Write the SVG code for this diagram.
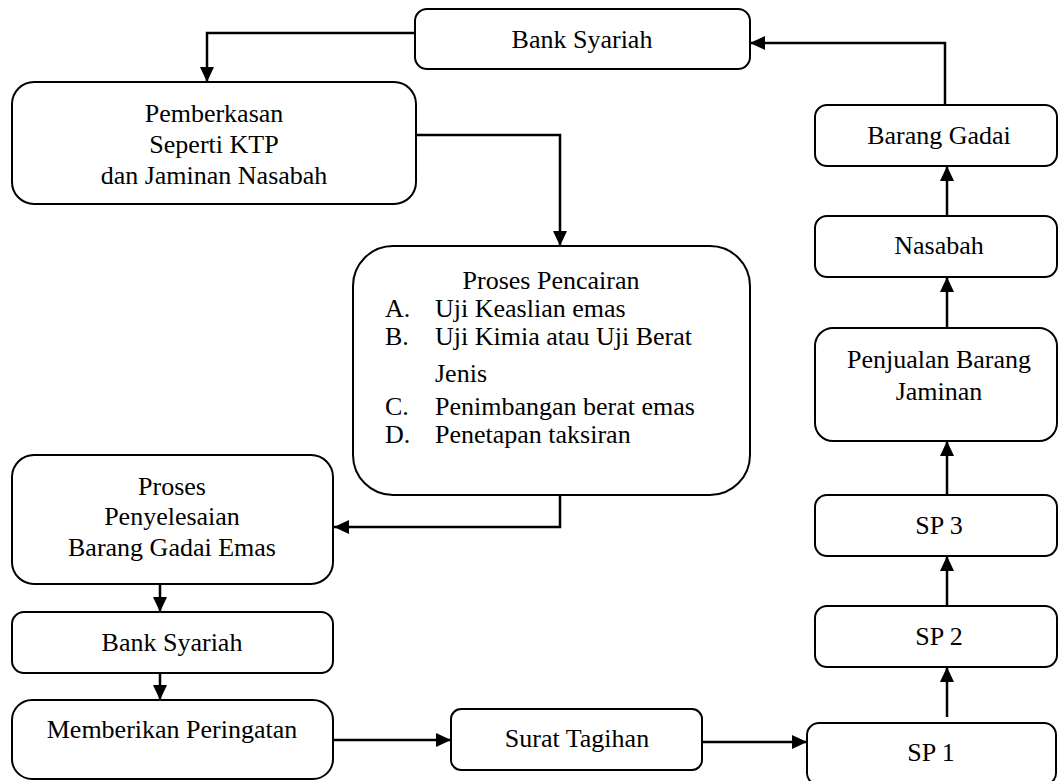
<svg xmlns="http://www.w3.org/2000/svg" width="1059" height="781" viewBox="0 0 1059 781">
<style>
.box{fill:#fff;stroke:#000;stroke-width:2}
.t{font-family:"Liberation Serif","Times New Roman",serif;font-size:26px;fill:#000}
.c{text-anchor:middle}
.ln{fill:none;stroke:#000;stroke-width:2.5;marker-end:url(#ah)}
</style>
<defs>
<marker id="ah" markerUnits="userSpaceOnUse" markerWidth="15" markerHeight="14" refX="15" refY="7" orient="auto">
<path d="M0,0 L15,7 L0,14 z" fill="#000"/>
</marker>
</defs>
<rect width="1059" height="781" fill="#fff"/>
<g id="connectors">
<path class="ln" d="M415,33 H207 V82"/>
<path class="ln" d="M416,135 H560 V246"/>
<path class="ln" d="M560,495 V527 H334"/>
<path class="ln" d="M160,584 V612"/>
<path class="ln" d="M160,673 V700"/>
<path class="ln" d="M333,740 H451"/>
<path class="ln" d="M702,742 H807"/>
<path class="ln" d="M947,717 V667"/>
<path class="ln" d="M947,606 V556"/>
<path class="ln" d="M947,495 V441"/>
<path class="ln" d="M947,328 V277"/>
<path class="ln" d="M947,216 V166"/>
<path class="ln" d="M945,105 V43 H750"/>
</g>
<g id="bank-syariah-top">
<rect class="box" x="415" y="9" width="335" height="60" rx="12"/>
<text class="t c" x="582" y="48">Bank Syariah</text>
</g>
<g id="pemberkasan">
<rect class="box" x="12" y="82" width="404" height="122" rx="22"/>
<text class="t c" x="214" y="122">Pemberkasan</text>
<text class="t c" x="214" y="153">Seperti KTP</text>
<text class="t c" x="214" y="184">dan Jaminan Nasabah</text>
</g>
<g id="proses-pencairan">
<rect class="box" x="353" y="246" width="397" height="249" rx="40"/>
<text class="t c" x="551" y="289">Proses Pencairan</text>
<text class="t" x="385" y="317">A.</text>
<text class="t" x="435" y="317">Uji Keaslian emas</text>
<text class="t" x="385" y="345">B.</text>
<text class="t" x="435" y="345">Uji Kimia atau Uji Berat</text>
<text class="t" x="435" y="382">Jenis</text>
<text class="t" x="385" y="415">C.</text>
<text class="t" x="435" y="415">Penimbangan berat emas</text>
<text class="t" x="385" y="443">D.</text>
<text class="t" x="435" y="443">Penetapan taksiran</text>
</g>
<g id="proses-penyelesaian">
<rect class="box" x="12" y="455" width="321" height="129" rx="22"/>
<text class="t c" x="172" y="495">Proses</text>
<text class="t c" x="172" y="525">Penyelesaian</text>
<text class="t c" x="172" y="556">Barang Gadai Emas</text>
</g>
<g id="bank-syariah-bottom">
<rect class="box" x="12" y="612" width="321" height="61" rx="12"/>
<text class="t c" x="172" y="651">Bank Syariah</text>
</g>
<g id="memberikan-peringatan">
<rect class="box" x="12" y="700" width="321" height="79" rx="20"/>
<text class="t c" x="172" y="738">Memberikan Peringatan</text>
</g>
<g id="surat-tagihan">
<rect class="box" x="451" y="709" width="251" height="61" rx="10"/>
<text class="t c" x="577" y="747">Surat Tagihan</text>
</g>
<g id="sp1">
<rect class="box" x="807" y="723" width="249" height="62" rx="12"/>
<text class="t c" x="931" y="761">SP 1</text>
</g>
<g id="sp2">
<rect class="box" x="815" y="606" width="242" height="61" rx="12"/>
<text class="t c" x="939" y="645">SP 2</text>
</g>
<g id="sp3">
<rect class="box" x="815" y="495" width="242" height="61" rx="12"/>
<text class="t c" x="939" y="534">SP 3</text>
</g>
<g id="penjualan">
<rect class="box" x="815" y="328" width="242" height="113" rx="18"/>
<text class="t c" x="939" y="368">Penjualan Barang</text>
<text class="t c" x="939" y="400">Jaminan</text>
</g>
<g id="nasabah">
<rect class="box" x="815" y="216" width="242" height="61" rx="12"/>
<text class="t c" x="939" y="254">Nasabah</text>
</g>
<g id="barang-gadai">
<rect class="box" x="815" y="105" width="242" height="61" rx="12"/>
<text class="t c" x="939" y="144">Barang Gadai</text>
</g>
</svg>
